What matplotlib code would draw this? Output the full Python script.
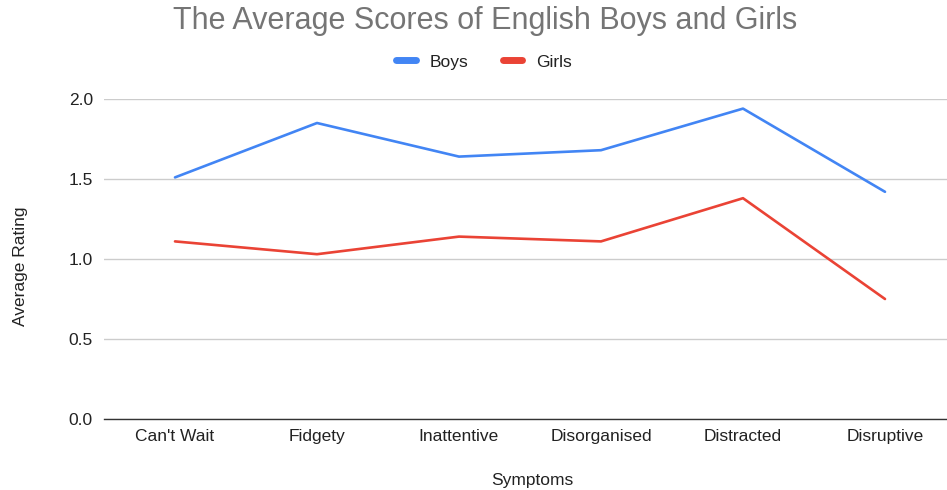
import matplotlib
matplotlib.use("Agg")
import matplotlib.pyplot as plt
from matplotlib.lines import Line2D

categories = ["Can't Wait", "Fidgety", "Inattentive", "Disorganised", "Distracted", "Disruptive"]
boys = [1.51, 1.85, 1.64, 1.68, 1.94, 1.42]
girls = [1.11, 1.03, 1.14, 1.11, 1.38, 0.75]
yticks = [0.0, 0.5, 1.0, 1.5, 2.0]
ytick_labels = ["0.0", "0.5", "1.0", "1.5", "2.0"]

plt.rcParams['font.family'] = ['Liberation Sans', 'DejaVu Sans']

W, H = 947, 490
fig = plt.figure(figsize=(W / 100, H / 100), dpi=100)
left, right = 104, 956
top, bottom = 99, 419
ax = fig.add_axes([left / W, (H - bottom) / H, (right - left) / W, (bottom - top) / H])

x = list(range(len(categories)))
ax.plot(x, boys, color="#4285F4", lw=1.9, solid_capstyle="round", solid_joinstyle="round", zorder=3)
ax.plot(x, girls, color="#EA4335", lw=1.9, solid_capstyle="round", solid_joinstyle="round", zorder=3)

ax.set_xlim(-0.5, len(categories) - 0.5)
ax.set_ylim(0, 2.0)
ax.set_yticks(yticks)
ax.set_yticklabels(ytick_labels)
ax.set_xticks(x)
ax.set_xticklabels(categories)
for s in ["top", "right", "left"]:
    ax.spines[s].set_visible(False)
ax.spines["bottom"].set_color("#333333")
ax.spines["bottom"].set_linewidth(1.0)
ax.grid(axis="y", color="#cccccc", lw=1.0, zorder=0)
ax.set_axisbelow(True)
ax.tick_params(axis="both", length=0, labelsize=12.5, colors="#444444")
ax.tick_params(axis="y", pad=8)
ax.tick_params(axis="x", pad=7)
for lbl in ax.get_xticklabels() + ax.get_yticklabels():
    lbl.set_color("#222222")

fig.text(485 / W, 1 - 21 / H, "The Average Scores of English Boys and Girls",
         ha="center", va="center", fontsize=22, color="#757575")
fig.text(532 / W, 1 - 480 / H, "Symptoms", ha="center", va="center", fontsize=12.5, color="#222222")
fig.text(20 / W, 1 - 266 / H, "Average Rating", ha="center", va="center", rotation=90,
         fontsize=12.5, color="#222222")

handles = [Line2D([0], [0], color="#4285F4", lw=5, solid_capstyle="round"),
           Line2D([0], [0], color="#EA4335", lw=5, solid_capstyle="round")]
fig.legend(handles, ["Boys", "Girls"], loc="center", bbox_to_anchor=(484 / W, 1 - 62 / H),
           ncol=2, frameon=False, fontsize=12.5, handlelength=1.1, handletextpad=0.8,
           columnspacing=2.0, labelcolor="#222222")

fig.savefig("out.png", dpi=100)
